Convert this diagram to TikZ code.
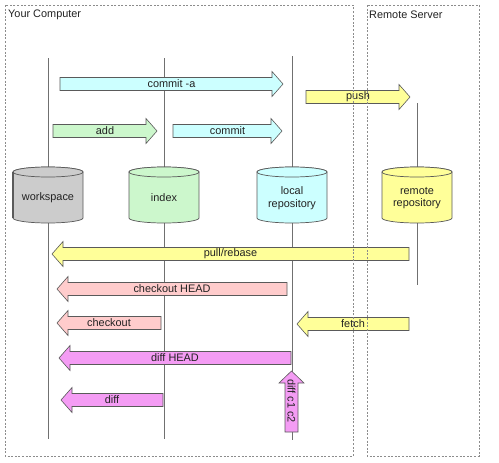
\documentclass[tikz,border=0pt]{standalone}
\usepackage{fontspec}
\setmainfont{Liberation Sans}
\definecolor{boxline}{HTML}{8C8C8C}
\definecolor{vline}{HTML}{707070}
\definecolor{edge}{HTML}{5A5A5A}
\definecolor{cgray}{HTML}{CCCCCC}
\definecolor{cgreen}{HTML}{CCF7CC}
\definecolor{ccyan}{HTML}{CCFFFF}
\definecolor{cyellow}{HTML}{FFFF99}
\definecolor{cpink}{HTML}{FFCCCC}
\definecolor{cmag}{HTML}{F49CF4}
\definecolor{txt}{HTML}{222222}
\tikzset{
  lbl/.style={font=\fontsize{10.9}{12.5}\selectfont, text=txt, inner sep=0pt, align=center},
  fatarrow/.style={draw=edge, line width=0.6pt, fill=#1},
  region/.style={draw=boxline, line width=0.8pt, dash pattern=on 2pt off 1.6pt},
  lifeline/.style={draw=vline, line width=0.9pt},
  cyl/.style={draw=edge, line width=0.7pt, fill=#1},
}
% #1 name, #2 fill, #3 tail x, #4 tip x, #5 y, #6 dir (+1 right, -1 left), #7 text
\newcommand\harrowbox[7]{%
  \pgfmathsetmacro\hb{#4-11*(#6)}%
  \draw[fatarrow=#2] (#3,#5-6.5) -- (\hb,#5-6.5) -- (\hb,#5-12.5) -- (#4,#5)
     -- (\hb,#5+12.5) -- (\hb,#5+6.5) -- (#3,#5+6.5) -- cycle;
  \node[lbl] (#1) at ({(#3+#4)/2},#5) {#7};
}
% #1 name, #2 fill, #3 center x, #4 text
\newcommand\cylbox[4]{%
  \draw[cyl=#2] (#3-35,172) -- (#3-35,218) arc[start angle=180,end angle=0,x radius=35,y radius=5]
     -- (#3+35,172) arc[start angle=0,end angle=-180,x radius=35,y radius=5] -- cycle;
  \draw[cyl=#2] (#3,172) ellipse[x radius=35,y radius=5];
  \node[lbl] (#1) at (#3,198) {#4};
}
\begin{document}
\begin{tikzpicture}[x=1pt,y=-1pt]
\useasboundingbox[fill=white] (0,0) rectangle (499,463);
% lifelines
\draw[lifeline] (48,58) -- (48,439);
\draw[lifeline] (164,58) -- (164,439);
\draw[lifeline] (292,56) -- (292,440);
\draw[lifeline] (417,103) -- (417,285);
% cylinders
\cylbox{ws}{cgray}{48}{workspace}
\draw[draw=edge, line width=1.4pt] (13,172) -- (13,218);
\cylbox{ix}{cgreen}{164}{index}
\cylbox{lr}{ccyan}{292}{local\\repository}
\cylbox{rr}{cyellow}{417}{remote\\repository}
% arrows
\harrowbox{commita}{ccyan}{60}{283}{84}{1}{commit -a}
\harrowbox{add}{cgreen}{53}{157}{131}{1}{add}
\harrowbox{commit}{ccyan}{173}{282}{131}{1}{commit}
\harrowbox{push}{cyellow}{306}{410}{97}{1}{push}
\harrowbox{pull}{cyellow}{409}{52}{254}{-1}{pull/rebase}
\harrowbox{cohead}{cpink}{287}{57}{289}{-1}{checkout HEAD}
\harrowbox{co}{cpink}{161}{57}{323}{-1}{checkout}
\harrowbox{fetch}{cyellow}{409}{297}{324}{-1}{fetch}
\harrowbox{diffhead}{cmag}{291}{59}{358}{-1}{diff HEAD}
\harrowbox{diff}{cmag}{163}{61}{400}{-1}{diff}
% vertical diff c1 c2
\draw[fatarrow=cmag] (285,432) -- (285,383) -- (279,383) -- (291.5,371) -- (304,383) -- (298,383) -- (298,432) -- cycle;
\node[lbl, rotate=-90] (diffcc) at (291.5,401) {diff c1 c2};
% regions
\draw[region] (5,5) rectangle (353,456);
\draw[region] (367,5) rectangle (479,456);
\node[lbl, anchor=west] (yc) at (8,15) {Your Computer};
\node[lbl, anchor=west] (rs) at (369,15) {Remote Server};
\end{tikzpicture}
\end{document}
